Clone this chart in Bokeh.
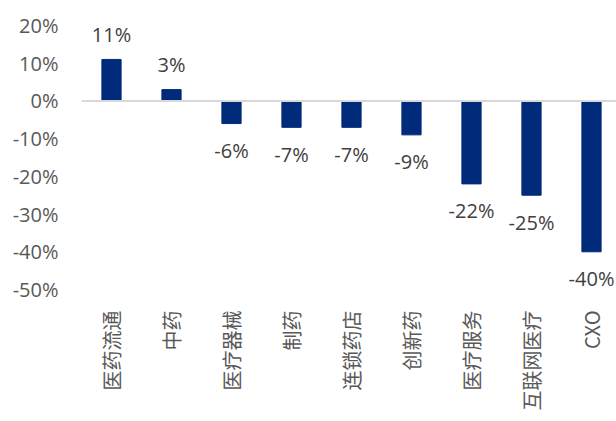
from bokeh.plotting import figure
from bokeh.models import ColumnDataSource, Range1d, FixedTicker, PrintfTickFormatter, Span
from bokeh.core.properties import value
from bokeh.embed import file_html
from bokeh.resources import INLINE
import math

categories = ["医药流通", "中药", "医疗器械", "制药", "连锁药店", "创新药", "医疗服务", "互联网医疗", "CXO"]
values = [11, 3, -6, -7, -7, -9, -22, -25, -40]
y_ticks = [-50, -40, -30, -20, -10, 0, 10, 20]

xs = list(range(len(categories)))
labels = [f"{v}%" for v in values]

src = ColumnDataSource(dict(x=xs, top=values, label=labels))
pos_src = ColumnDataSource(dict(x=[x for x, v in zip(xs, values) if v >= 0],
                                y=[v for v in values if v >= 0],
                                label=[l for l, v in zip(labels, values) if v >= 0]))
neg_src = ColumnDataSource(dict(x=[x for x, v in zip(xs, values) if v < 0],
                                y=[v for v in values if v < 0],
                                label=[l for l, v in zip(labels, values) if v < 0]))

p = figure(width=616, height=413, output_backend="svg", toolbar_location=None,
           x_range=Range1d(-0.5, 8.4167), y_range=Range1d(-50, 20),
           min_border_left=81, min_border_right=0, min_border_top=25, min_border_bottom=122)
p.outline_line_color = None
p.background_fill_color = "white"
p.xgrid.visible = False
p.ygrid.visible = False

p.vbar(x="x", top="top", bottom=0, width=0.32, source=src, color="#002A7A")
p.add_layout(Span(location=0, dimension="width", line_color="#D9D9D9", line_width=2))

p.text(x="x", y="y", text="label", source=pos_src, text_align="center", text_baseline="middle",
       y_offset=-25, text_font=value("Open Sans"), text_font_size="20px", text_color="#404040")
p.text(x="x", y="y", text="label", source=neg_src, text_align="center", text_baseline="middle",
       y_offset=27, text_font=value("Open Sans"), text_font_size="20px", text_color="#404040")

# y axis
p.yaxis.ticker = FixedTicker(ticks=y_ticks)
p.yaxis.formatter = PrintfTickFormatter(format="%d%%")
p.yaxis.axis_line_color = None
p.yaxis.major_tick_line_color = None
p.yaxis.minor_tick_line_color = None
p.yaxis.major_tick_out = 0
p.yaxis.major_label_standoff = 23
p.yaxis.major_label_text_font = "Open Sans"
p.yaxis.major_label_text_font_size = "20px"
p.yaxis.major_label_text_color = "#595959"

# x axis
p.xaxis.ticker = FixedTicker(ticks=xs)
p.xaxis.major_label_overrides = {i: c for i, c in zip(xs, categories)}
p.xaxis.major_label_orientation = math.pi / 2
p.xaxis.axis_line_color = None
p.xaxis.major_tick_line_color = None
p.xaxis.minor_tick_line_color = None
p.xaxis.major_tick_out = 0
p.xaxis.major_label_standoff = 21
p.xaxis.major_label_text_font = "Noto Sans CJK SC"
p.xaxis.major_label_text_font_size = "20px"
p.xaxis.major_label_text_color = "#595959"

open("out.html", "w").write(file_html(p, INLINE))
